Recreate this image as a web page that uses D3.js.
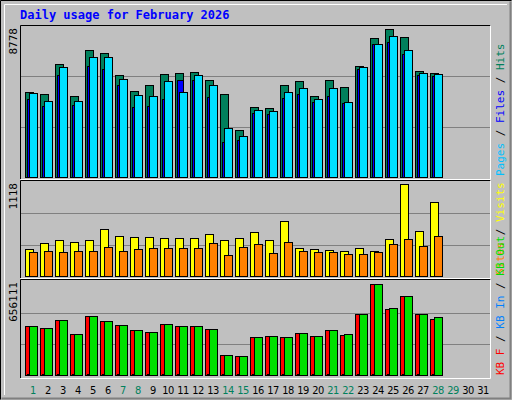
<!DOCTYPE html>
<html><head><meta charset="utf-8">
<script src="https://cdn.jsdelivr.net/npm/d3@7"></script>
<style>body{margin:0;background:#fff}</style></head>
<body><svg id="c" width="512" height="400"></svg>
<script>
const days = d3.range(1, 32);
const weekendDays = [1,7,8,14,15,21,22,28,29];
const hits  = [5040,4920,6700,4800,7530,7350,6050,5100,5450,6100,6170,6230,5750,4920,2790,4150,4090,5450,5690,4800,5750,5340,6580,8240,8778,8300,6290,6170];
const files = [4630,4210,6050,4270,6580,6400,5450,4150,4210,4620,5750,5750,4740,2060,2190,3800,3750,4680,4920,4450,4800,4380,6400,7880,8000,7300,6050,6000];
const pages = [4980,4510,6520,4510,7120,7120,5810,4860,4800,5690,5040,6050,5450,2900,2430,3970,3910,5040,5280,4620,5280,4450,6520,7880,8360,7530,6170,6110];
const visits = [330,400,440,415,440,570,485,475,475,460,460,460,510,440,460,535,440,670,340,330,315,305,340,305,450,1118,545,900];
const sites  = [290,305,290,305,305,350,305,330,340,340,340,340,400,255,350,390,280,410,305,290,290,270,270,290,390,450,365,485];
const kbF  = [353000,339000,397000,296000,426000,390000,361000,325000,310000,368000,353000,353000,332000,144000,137000,274000,281000,274000,303000,281000,324000,288000,440000,656111,476000,570000,440000,404000];
const kbIn = [9000,8000,9000,7000,9000,9000,8000,8000,7000,8000,8000,8000,8000,5000,5000,7000,7000,7000,7000,7000,8000,7000,9000,10000,9000,9000,9000,9000];
const kbOut = [353000,339000,397000,296000,426000,390000,361000,325000,310000,368000,353000,353000,332000,144000,137000,274000,281000,274000,303000,281000,324000,295000,440000,656111,482000,570000,440000,418000];

const svg = d3.select('#c');
svg.append('rect').attr('width',512).attr('height',400).attr('fill','#c0c0c0');
svg.append('path').attr('d','M0.5,399.5V0.5H511.5').attr('stroke','#000').attr('fill','none');
svg.append('path').attr('d','M1.5,398.5H510.5V1.5').attr('stroke','#808080').attr('stroke-width',2).attr('fill','none');
svg.append('path').attr('d','M4.5,395V4.5H507').attr('stroke','#fff').attr('fill','none');
svg.append('text').attr('x',20).attr('y',19).text('Daily usage for February 2026')
  .attr('font-family','DejaVu Sans Mono').attr('font-weight','bold').attr('font-size',12).attr('fill','#0000ff');

const x = d3.scaleLinear().domain([1,2]).range([25,40]);
const panels = [
 {top:25,bot:179,y0:177,ymax:29,max:8778,label:'8778',series:[[hits,'#00805c'],[files,'#0000ff'],[pages,'#00e0ff']],
  legend:[['Pages','#00c0ff'],['/','#000'],['Files','#0000ff'],['/','#000'],['Hits','#00805c']]},
 {top:180,bot:278,y0:276,ymax:184,max:1118,label:'1118',series:[[visits,'#ffff00'],[sites,'#ff8000']],
  legend:[['Sites','#ff8000'],['/','#000'],['Visits','#ffff00']]},
 {top:279,bot:378,y0:375,ymax:284,max:656111,label:'656111',series:[[kbF,'#ff0000'],[kbIn,'#0080ff'],[kbOut,'#00e000']],
  legend:[['KB F','#ff0000'],['/','#000'],['KB In','#0080ff'],['/','#000'],['KB Out','#00e000']]}
];
panels.forEach(p=>{
  const y = d3.scaleLinear().domain([0,p.max]).range([p.y0,p.ymax]);
  const g = svg.append('g');
  const step=(p.y0-p.ymax)/3*1.02;
  [1,2].forEach(i=>g.append('line').attr('x1',21).attr('x2',490).attr('y1',Math.round(p.y0-step*i)+0.5).attr('y2',Math.round(p.y0-step*i)+0.5).attr('stroke','#808080'));
  const n=p.series.length;
  const offs = n===3?[0,2,4]:[0,4];
  p.series.forEach(([vals,col],si)=>{
    g.selectAll(null).data(vals).enter().append('rect')
      .attr('x',(d,i)=>x(i+1)+offs[si]+0.5).attr('y',d=>Math.round(y(d))+0.5)
      .attr('width',n===3&&si===1?6:8).attr('height',d=>p.y0-Math.round(y(d)))
      .attr('fill',col).attr('stroke','#000');
  });
  g.append('path').attr('d',`M20.5,${p.bot}V${p.top+0.5}H490.5`).attr('stroke','#000').attr('fill','none');
  g.append('path').attr('d',`M20.5,${p.bot+0.5}H490.5V${p.top+0.5}`).attr('stroke','#fff').attr('fill','none');
  g.append('text').attr('transform',`translate(17,${p.top+3}) rotate(-90)`).attr('text-anchor','end')
    .attr('font-family','DejaVu Sans Mono').attr('font-size',11).text(p.label);
  let off = p.bot-3;
  p.legend.forEach(([s,c])=>{
    const t = g.append('text').attr('transform',`translate(504,${off}) rotate(-90)`)
      .attr('font-family','DejaVu Sans Mono').attr('font-size',11).attr('fill',c).text(s);
    off -= t.node().getComputedTextLength() + 6.6;
  });
});
svg.selectAll('.day').data(days).enter().append('text')
  .attr('x',d=>x(d)+8).attr('y',394).attr('text-anchor','middle')
  .attr('font-family','DejaVu Sans Condensed, DejaVu Sans').attr('font-size',11).attr('letter-spacing',-0.5)
  .attr('fill',d=>weekendDays.includes(d)?'#00805c':'#000').text(d=>d);
</script></body></html>
